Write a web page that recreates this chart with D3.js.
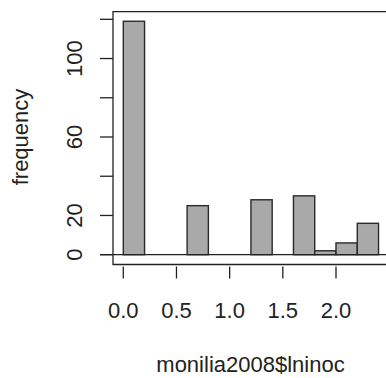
<!DOCTYPE html>
<html>
<head>
<meta charset="utf-8">
<script src="https://cdn.jsdelivr.net/npm/d3@7"></script>
<style>
  html, body { margin: 0; padding: 0; background: #fff; overflow: hidden; }
  svg { display: block; }
  text { font-family: "Liberation Sans", Arial, sans-serif; fill: #222; }
</style>
</head>
<body>
<svg id="chart" width="386" height="378"></svg>
<script>
// Histogram bins (left edge, right edge) and counts
const binStart = [0.0, 0.6, 1.2, 1.6, 1.8, 2.0, 2.2];
const binEnd   = [0.2, 0.8, 1.4, 1.8, 2.0, 2.2, 2.4];
const counts   = [119, 25, 28, 30, 2, 6, 16];
const xTicks = [0.0, 0.5, 1.0, 1.5, 2.0];
const xTickLabels = ["0.0", "0.5", "1.0", "1.5", "2.0"];
const yTicks = [0, 20, 40, 60, 80, 100, 120];
const yTickLabels = ["0", "20", "", "60", "", "100", ""];
const xTitle = "monilia2008$lninoc";
const yTitle = "frequency";

const svg = d3.select("#chart");
const x = d3.scaleLinear().domain([0, 2]).range([123.3, 336]);
const y = d3.scaleLinear().domain([0, 120]).range([254.7, 19.3]);

const boxLeft = 113, boxTop = 11.7, boxBottom = 264.5, boxRight = 420;
const ink = "#222";

// bars
svg.append("g").selectAll("rect").data(counts).join("rect")
  .attr("x", (d, i) => x(binStart[i]))
  .attr("width", (d, i) => x(binEnd[i]) - x(binStart[i]))
  .attr("y", d => y(d))
  .attr("height", d => y(0) - y(d))
  .attr("fill", "#a9a9a9")
  .attr("stroke", "#2a2a2a")
  .attr("stroke-width", 1.4);

// zero line
svg.append("line")
  .attr("x1", 100).attr("x2", 400)
  .attr("y1", y(0)).attr("y2", y(0))
  .attr("stroke", ink).attr("stroke-width", 1.3);

// box (left, top, bottom)
svg.append("path")
  .attr("d", `M${boxRight},${boxTop}H${boxLeft}V${boxBottom}H${boxRight}`)
  .attr("fill", "none").attr("stroke", ink).attr("stroke-width", 1.3);

// y axis ticks
const yAxis = svg.append("g");
yAxis.selectAll("line").data(yTicks).join("line")
  .attr("x1", 100).attr("x2", boxLeft)
  .attr("y1", d => y(d)).attr("y2", d => y(d))
  .attr("stroke", ink).attr("stroke-width", 1.3);
yAxis.selectAll("text").data(yTicks).join("text")
  .attr("transform", d => `translate(82,${y(d)}) rotate(-90)`)
  .attr("text-anchor", "middle")
  .attr("font-size", 22)
  .text((d, i) => yTickLabels[i]);

// x axis ticks
const xAxis = svg.append("g");
xAxis.selectAll("line").data(xTicks).join("line")
  .attr("x1", d => x(d)).attr("x2", d => x(d))
  .attr("y1", 266.5).attr("y2", 278.5)
  .attr("stroke", ink).attr("stroke-width", 1.3);
xAxis.selectAll("text").data(xTicks).join("text")
  .attr("x", d => x(d)).attr("y", 318.3)
  .attr("text-anchor", "middle")
  .attr("font-size", 22)
  .text((d, i) => xTickLabels[i]);

// titles
svg.append("text")
  .attr("x", 250.5).attr("y", 372.3)
  .attr("text-anchor", "middle").attr("font-size", 22)
  .text(xTitle);
svg.append("text")
  .attr("transform", `translate(27.5,${(y(0) + y(120)) / 2}) rotate(-90)`)
  .attr("text-anchor", "middle").attr("font-size", 22)
  .text(yTitle);
</script>
</body>
</html>
